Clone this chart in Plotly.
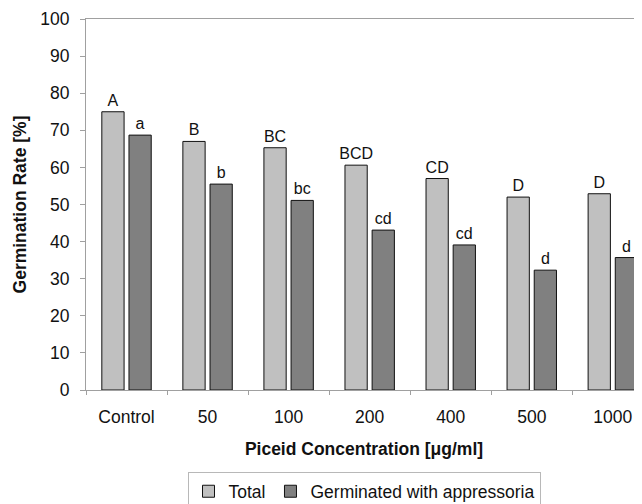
import plotly.graph_objects as go

categories = ["Control", "50", "100", "200", "400", "500", "1000"]
total = [75.0, 67.0, 65.3, 60.6, 57.0, 52.0, 52.9]
appressoria = [68.7, 55.5, 51.1, 43.1, 39.1, 32.3, 35.7]
letters_total = ["A", "B", "BC", "BCD", "CD", "D", "D"]
letters_app = ["a", "b", "bc", "cd", "cd", "d", "d"]
y_ticks = [0, 10, 20, 30, 40, 50, 60, 70, 80, 90, 100]

FONT = "Liberation Sans, Arial, sans-serif"
FS = 17.5

fig = go.Figure()
fig.add_trace(go.Bar(
    x=categories, y=total, name="Total",
    marker=dict(color="#c0c0c0", line=dict(color="#111111", width=1)),
    text=letters_total, textposition="outside", cliponaxis=False,
    constraintext="none",
    textfont=dict(family=FONT, size=16, color="#111111"),
))
fig.add_trace(go.Bar(
    x=categories, y=appressoria, name="Germinated with appressoria",
    marker=dict(color="#808080", line=dict(color="#111111", width=1)),
    text=letters_app, textposition="outside", cliponaxis=False,
    constraintext="none",
    textfont=dict(family=FONT, size=16, color="#111111"),
))

# page body has an 8px margin, so the figure itself is 634x496
fig.update_layout(
    width=634, height=496,
    margin=dict(l=78, r=0, t=11, b=114, autoexpand=False),
    paper_bgcolor="white", plot_bgcolor="white",
    barmode="group", bargap=0.33, bargroupgap=0.18,
    font=dict(family=FONT, size=FS, color="#111111"),
    showlegend=True,
    legend=dict(
        orientation="h", x=0.5, xanchor="center", y=-0.222, yanchor="top",
        bordercolor="#b8b8b8", borderwidth=1,
        font=dict(family=FONT, size=FS, color="#111111"),
        itemwidth=30, tracegroupgap=0,
    ),
)
fig.update_xaxes(
    type="category", range=[-0.5, 6.36], automargin=False,
    showline=True, linecolor="#a0a0a0", linewidth=1, mirror=True,
    ticks="outside", tickson="boundaries", ticklen=4, tickcolor="#a0a0a0",
    ticklabelstandoff=11,
    showgrid=False,
    tickfont=dict(family=FONT, size=FS, color="#111111"),
    title=dict(text="<b>Piceid Concentration [μg/ml]</b>", standoff=16,
               font=dict(family=FONT, size=FS, color="#111111")),
)
fig.update_yaxes(
    range=[0, 100], tickvals=y_ticks, automargin=False,
    showline=True, linecolor="#a0a0a0", linewidth=1,
    ticks="outside", ticklen=5, tickcolor="#a0a0a0",
    ticklabelstandoff=7,
    showgrid=False, zeroline=False,
    tickfont=dict(family=FONT, size=FS, color="#111111"),
    title=dict(text="<b>Germination Rate [%]</b>", standoff=9,
               font=dict(family=FONT, size=FS, color="#111111")),
)

fig.write_html("out.html")
